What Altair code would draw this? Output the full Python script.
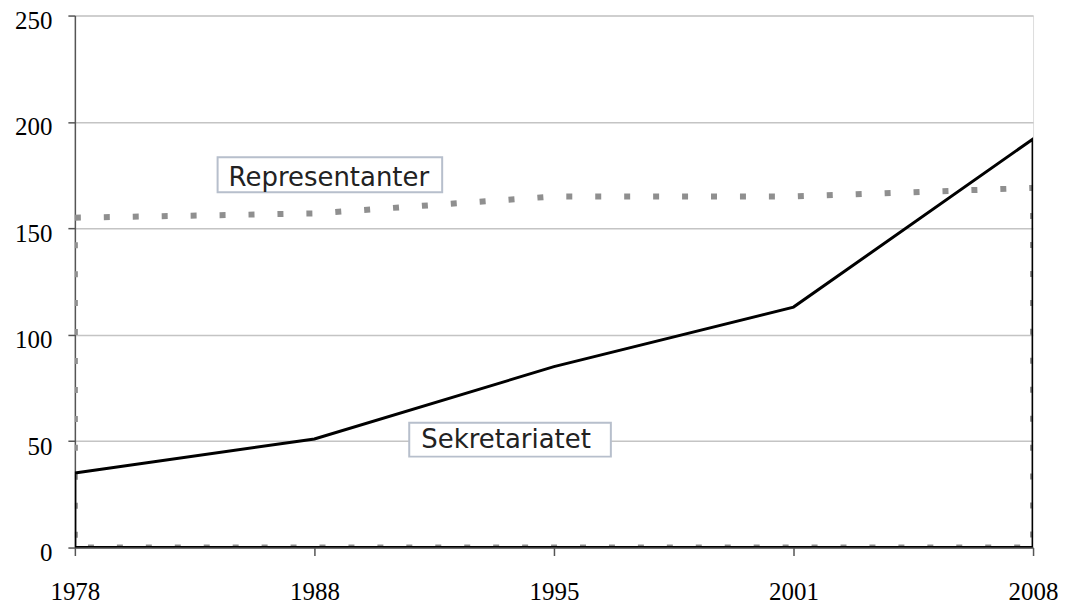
import altair as alt
import pandas as pd

years = ["1978", "1988", "1995", "2001", "2008"]
sekretariatet = [35, 51, 85, 113, 192]
representanter = [155, 157, 165, 165, 169]
y_ticks = [0, 50, 100, 150, 200, 250]

label_names = ["Representanter", "Sekretariatet"]
label_years = ["1988", "1995"]
label_values = [175.2, 50.7]

df_s = pd.DataFrame({"year": years, "value": sekretariatet})
df_r = pd.DataFrame({"year": years, "value": representanter})

AXIS_FONT = "Liberation Serif"

x_enc = alt.X(
    "year:O",
    sort=years,
    scale=alt.Scale(type="point", padding=0),
    axis=alt.Axis(
        title=None, labelAngle=0, grid=False, tickSize=8,
        labelPadding=44, labelBaseline="alphabetic",
        labelFont=AXIS_FONT, labelFontSize=25, labelColor="black",
        domainColor="#555555", tickColor="#555555",
        domainWidth=1.5, tickWidth=1.5,
    ),
)
y_enc = alt.Y(
    "value:Q",
    scale=alt.Scale(domain=[0, 250], nice=False),
    axis=alt.Axis(
        title=None, values=y_ticks, tickSize=7, labelPadding=16,
        labelOffset=5,
        labelFont=AXIS_FONT, labelFontSize=25, labelColor="black",
        domainColor="#555555", tickColor="#555555",
        domainWidth=1.5, tickWidth=1.5,
        gridColor="#c4c4c4", gridWidth=1.5,
    ),
)

rep = alt.Chart(df_r).mark_area(
    fillOpacity=0, stroke="#8f8f8f", strokeWidth=6,
    strokeDash=[6, 23], strokeCap="butt", clip=True,
).encode(x=x_enc, y=y_enc)

sek = alt.Chart(df_s).mark_area(
    fillOpacity=0, stroke="black", strokeWidth=3, clip=True,
).encode(x=x_enc, y=y_enc)


def label(i, box_w, box_h, box_dx, text_dx, text_dy):
    d = pd.DataFrame({"year": [label_years[i]], "value": [label_values[i]],
                      "name": [label_names[i]]})
    hh = box_h / box_w
    path = f"M-1,-{hh:.4f}L1,-{hh:.4f}L1,{hh:.4f}L-1,{hh:.4f}Z"
    box = alt.Chart(d).mark_point(
        shape=path, size=box_w * box_w, filled=True, fill="white",
        fillOpacity=1, stroke="#b7bfcc", strokeWidth=2, opacity=1,
        xOffset=box_dx,
    ).encode(x=alt.X("year:O", sort=years), y="value:Q")
    txt = alt.Chart(d).mark_text(
        font="DejaVu Sans", fontSize=26, color="#222222",
        align="center", baseline="middle", dx=text_dx, dy=text_dy,
    ).encode(x=alt.X("year:O", sort=years), y="value:Q", text="name:N")
    return box + txt


chart = alt.layer(
    rep, sek,
    label(0, 225, 35, 15.5, 14.5, 3),
    label(1, 202, 34, -44, -48, 0),
).properties(
    width=960, height=533,
    autosize=alt.AutoSizeParams(type="none"),
    padding={"left": 67, "top": 7, "right": 25, "bottom": 62},
).configure_view(
    stroke="#c4c4c4", strokeWidth=1.5,
).configure(background="white")

chart.save("out.html", embed_options={"renderer": "svg", "actions": False})
